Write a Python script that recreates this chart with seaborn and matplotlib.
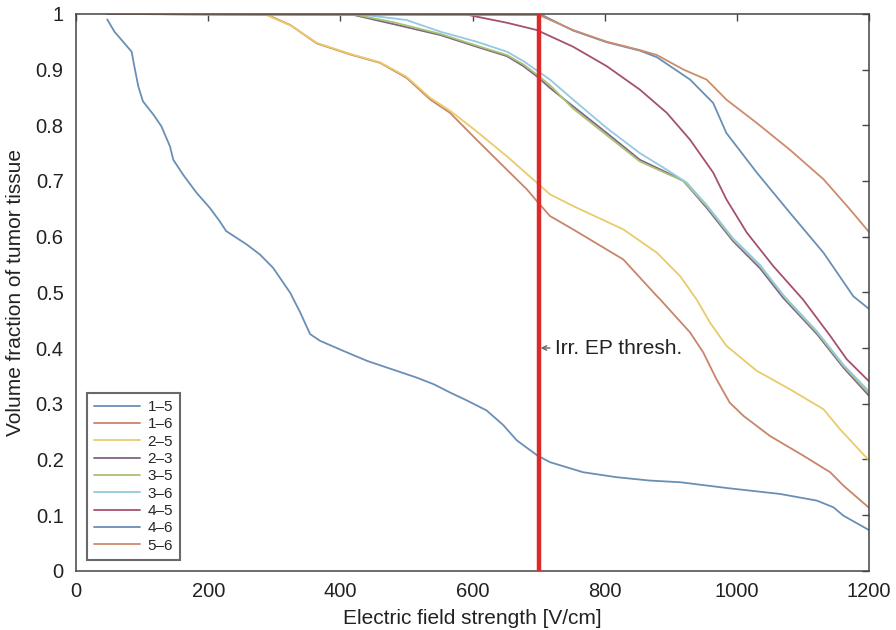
import matplotlib
matplotlib.use("Agg")
import matplotlib.pyplot as plt
import seaborn as sns
import pandas as pd

# electrode pairs and their volume-fraction curves
labels = ["1\u20135", "1\u20136", "2\u20135", "2\u20133", "3\u20135", "3\u20136", "4\u20135", "4\u20136", "5\u20136"]

x15 = [47, 58, 84, 88, 94, 101, 117, 129, 142, 147, 162, 182, 202, 217, 227, 258, 278, 298, 324, 339, 354, 369,
       404, 440, 480, 515, 541, 566, 591, 621, 646, 667, 698, 717, 767, 818, 868, 914, 989, 1065, 1121, 1146, 1161, 1200]
y15 = [0.990, 0.968, 0.932, 0.906, 0.870, 0.843, 0.819, 0.798, 0.762, 0.738, 0.711, 0.679, 0.652, 0.628, 0.610,
       0.586, 0.568, 0.544, 0.499, 0.464, 0.425, 0.413, 0.395, 0.377, 0.361, 0.347, 0.335, 0.320, 0.306, 0.288,
       0.262, 0.234, 0.207, 0.195, 0.177, 0.168, 0.162, 0.159, 0.148, 0.138, 0.126, 0.114, 0.099, 0.073]

x16 = [47, 290, 324, 364, 415, 460, 500, 536, 566, 606, 652, 682, 697, 717, 752, 828, 879, 884, 929, 949, 969,
       989, 1010, 1050, 1100, 1141, 1161, 1200]
y16 = [1, 0.998, 0.980, 0.947, 0.927, 0.912, 0.885, 0.846, 0.822, 0.774, 0.720, 0.685, 0.664, 0.637, 0.613,
       0.559, 0.493, 0.487, 0.428, 0.392, 0.344, 0.302, 0.278, 0.242, 0.207, 0.177, 0.153, 0.113]

x25 = [47, 288, 328, 364, 415, 460, 500, 536, 566, 606, 652, 697, 717, 752, 828, 879, 914, 939, 959, 984, 1030,
       1080, 1131, 1156, 1200]
y25 = [1, 0.998, 0.977, 0.948, 0.928, 0.913, 0.887, 0.849, 0.826, 0.789, 0.744, 0.697, 0.676, 0.655, 0.613,
       0.571, 0.529, 0.487, 0.446, 0.404, 0.359, 0.326, 0.290, 0.254, 0.198]

x23 = [47, 420, 475, 551, 606, 652, 677, 697, 717, 752, 803, 853, 894, 919, 954, 994, 1035, 1070, 1121, 1161, 1200]
y23 = [1, 0.998, 0.983, 0.962, 0.941, 0.924, 0.906, 0.888, 0.867, 0.834, 0.786, 0.738, 0.715, 0.700, 0.652,
       0.592, 0.543, 0.490, 0.425, 0.365, 0.314]

x35 = [47, 425, 480, 551, 606, 652, 677, 697, 717, 752, 803, 853, 894, 919, 954, 994, 1035, 1075, 1121, 1161, 1200]
y35 = [1, 0.998, 0.985, 0.964, 0.943, 0.926, 0.909, 0.891, 0.872, 0.830, 0.782, 0.735, 0.713, 0.700, 0.655,
       0.595, 0.547, 0.487, 0.428, 0.368, 0.318]

x36 = [47, 430, 500, 551, 606, 652, 677, 717, 752, 803, 853, 894, 924, 954, 994, 1035, 1070, 1121, 1161, 1200]
y36 = [1, 0.999, 0.989, 0.968, 0.950, 0.932, 0.915, 0.882, 0.846, 0.795, 0.750, 0.720, 0.697, 0.657, 0.597,
       0.549, 0.495, 0.430, 0.370, 0.322]

x45 = [47, 590, 606, 652, 697, 752, 803, 853, 894, 929, 964, 984, 1015, 1055, 1100, 1141, 1166, 1200]
y45 = [1, 0.999, 0.995, 0.984, 0.971, 0.941, 0.906, 0.864, 0.822, 0.774, 0.715, 0.667, 0.607, 0.547, 0.487,
       0.422, 0.380, 0.340]

x46 = [47, 705, 752, 803, 853, 879, 929, 964, 984, 1030, 1080, 1131, 1176, 1200]
y46 = [1, 0.998, 0.970, 0.949, 0.934, 0.922, 0.882, 0.840, 0.786, 0.715, 0.643, 0.571, 0.493, 0.470]

x56 = [47, 700, 752, 803, 853, 879, 919, 954, 984, 1030, 1080, 1131, 1171, 1200]
y56 = [1, 0.998, 0.971, 0.950, 0.935, 0.926, 0.900, 0.882, 0.846, 0.804, 0.756, 0.703, 0.649, 0.608]

xs = [x15, x16, x25, x23, x35, x36, x45, x46, x56]
ys = [y15, y16, y25, y23, y35, y36, y45, y46, y56]

colors = ["#6a8fb5", "#c9856a", "#e9cb6a", "#7d6483", "#a9c274", "#94c9e2", "#a5506e", "#6a8fb5", "#cc8c6c"]

threshold = 700
xticks = [0, 200, 400, 600, 800, 1000, 1200]
yticks = [0, 0.1, 0.2, 0.3, 0.4, 0.5, 0.6, 0.7, 0.8, 0.9, 1]
ytick_labels = ["0", "0.1", "0.2", "0.3", "0.4", "0.5", "0.6", "0.7", "0.8", "0.9", "1"]

sns.set_style("white")
plt.rcParams['font.family'] = ['Liberation Sans', 'DejaVu Sans']

fig = plt.figure(figsize=(8.96, 6.3), dpi=100)
ax = fig.add_axes([0.085, 0.094, 0.885, 0.884])

rows = []
for lab, x, y in zip(labels, xs, ys):
    for xi, yi in zip(x, y):
        rows.append({"pair": lab, "E": xi, "frac": yi})
df = pd.DataFrame(rows)

sns.lineplot(data=df, x="E", y="frac", hue="pair", hue_order=labels,
             palette=dict(zip(labels, colors)), linewidth=1.3, ax=ax, sort=False, estimator=None)

ax.axvline(threshold, color="#dc2a2a", linewidth=3.2, zorder=5)
ax.annotate("Irr. EP thresh.", xy=(threshold + 3, 0.4), xytext=(threshold + 24, 0.4),
            fontsize=15, va="center", ha="left", color="#222222",
            arrowprops=dict(arrowstyle="->", color="#666666", lw=1.0, mutation_scale=8,
                            shrinkA=1, shrinkB=0))

ax.set_xlim(0, 1200)
ax.set_ylim(0, 1)
ax.set_xticks(xticks)
ax.set_xticklabels([str(t) for t in xticks])
ax.set_yticks(yticks)
ax.set_yticklabels(ytick_labels)
ax.tick_params(direction="in", top=True, right=True, length=5, width=1, colors="#444444",
               labelsize=14.5, labelcolor="#222222")
ax.tick_params(axis="x", pad=8)
ax.tick_params(axis="y", pad=9)
for s in ax.spines.values():
    s.set_color("#444444")
    s.set_linewidth(1.1)

ax.set_xlabel("Electric field strength [V/cm]", fontsize=15, color="#222222", labelpad=6)
ax.set_ylabel("Volume fraction of tumor tissue", fontsize=15, color="#222222", labelpad=8)

leg = ax.legend(loc="lower left", bbox_to_anchor=(0.014, 0.02), fontsize=11, frameon=True,
                fancybox=False, handlelength=3.0, labelspacing=0.22, borderpad=0.45,
                handletextpad=0.5, borderaxespad=0)
leg.get_frame().set_edgecolor("#444444")
leg.get_frame().set_linewidth(1.5)

fig.savefig("out.png", dpi=100)
